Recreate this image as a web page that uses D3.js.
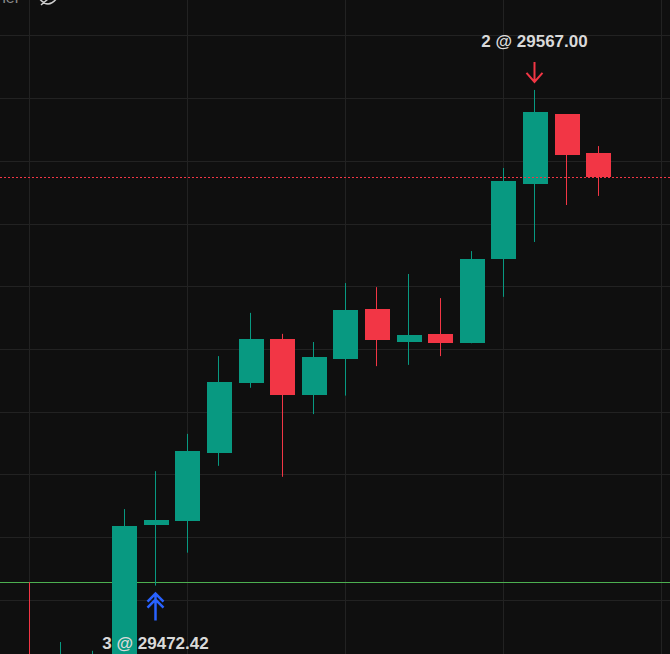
<!DOCTYPE html>
<html lang="en">
<head>
    <meta charset="UTF-8">
    <title>candles</title>
    <script src="https://cdn.jsdelivr.net/npm/d3@7/dist/d3.min.js"></script>
    <style>
        html, body { margin: 0; padding: 0; background: #0f0f0f; overflow: hidden; }
        svg { display: block; }
    </style>
</head>
<body>
<script>
    let width = 670,
        height = 654;

    // OHLC per bar (the first three bars sit mostly below the view)
    let open  = [29418, 29402, 29404, 29418, 29463.9, 29465.2, 29486.9, 29509.1, 29523.2, 29505.3, 29516.8, 29532.7, 29522.2, 29524.8, 29521.9, 29548.7, 29572.6, 29594.9, 29582.5];
    let high  = [29445.6, 29426.5, 29423.7, 29468.9, 29481.0, 29492.9, 29517.7, 29531.5, 29524.8, 29522.2, 29541.0, 29539.7, 29543.9, 29536.2, 29551.2, 29577.7, 29602.6, 29594.9, 29584.7];
    let low   = [29392, 29396, 29399, 29415, 29444.5, 29455.0, 29482.7, 29507.6, 29479.2, 29499.2, 29505.1, 29514.5, 29514.9, 29517.7, 29521.8, 29536.6, 29554.1, 29565.9, 29568.8];
    let close = [29400, 29418, 29420, 29463.5, 29465.4, 29487.4, 29509.4, 29523.2, 29505.3, 29517.4, 29532.4, 29522.8, 29524.4, 29521.9, 29548.7, 29573.6, 29595.6, 29581.9, 29574.8];

    // grid values
    let gridPrices = [29440, 29460, 29480, 29500, 29520, 29540, 29560, 29580, 29600, 29620];
    let gridBars = [0, 5, 10, 15, 20];

    // trades
    let tradeBar = [4, 16];
    let tradeSide = ['buy', 'sell'];
    let tradeQty = [3, 2];
    let tradePrice = [29472.42, 29567.00];

    // horizontal level line
    let levelPrice = 29445.6;

    let upColor = '#089981',
        downColor = '#f23645';

    let svg = d3.select('body')
                .append('svg')
                .attr('width', width)
                .attr('height', height);

    let x = d3.scaleLinear().domain([0, 18]).range([29.3, 598.1]);
    let y = d3.scaleLinear().domain([29440, 29620]).range([599.7, 35.4]);
    let crisp = v => Math.round(v) + 0.5;

    // grid
    svg.append('g')
       .selectAll('line')
       .data(gridPrices)
       .enter()
       .append('line')
       .attr('x1', 0).attr('x2', width)
       .attr('y1', d => crisp(y(d))).attr('y2', d => crisp(y(d)))
       .attr('stroke', '#222222');

    svg.append('g')
       .selectAll('line')
       .data(gridBars)
       .enter()
       .append('line')
       .attr('y1', 0).attr('y2', height)
       .attr('x1', d => crisp(x(d) - 0.5)).attr('x2', d => crisp(x(d) - 0.5))
       .attr('stroke', '#222222');

    // top-left legend remains (cut off)
    svg.append('text')
       .attr('x', 20).attr('y', 3)
       .attr('text-anchor', 'end')
       .attr('fill', '#8a8a8a')
       .style('font', '16px "Liberation Sans", sans-serif')
       .text('Tether');
    svg.append('path')
       .attr('d', 'M39,-2 Q48,10 57,-2 M41,5 L55,-7')
       .attr('fill', 'none')
       .attr('stroke', '#d0d0d0')
       .attr('stroke-width', 1.5);

    // level line
    svg.append('line')
       .attr('x1', 0).attr('x2', width)
       .attr('y1', crisp(y(levelPrice))).attr('y2', crisp(y(levelPrice)))
       .attr('stroke', '#4caf50');

    // candles
    let bars = d3.range(open.length);
    let g = svg.selectAll('g.bar')
               .data(bars)
               .enter()
               .append('g')
               .attr('class', 'bar');

    let colorOf = i => close[i] >= open[i] ? upColor : downColor;

    g.append('line')
     .attr('x1', i => crisp(x(i) - 0.5)).attr('x2', i => crisp(x(i) - 0.5))
     .attr('y1', i => y(high[i])).attr('y2', i => y(low[i]))
     .attr('stroke', colorOf);

    g.append('rect')
     .attr('x', i => Math.round(x(i)) - 12)
     .attr('width', 25)
     .attr('y', i => Math.round(y(Math.max(open[i], close[i]))))
     .attr('height', i => Math.max(1, Math.round(Math.abs(y(open[i]) - y(close[i])))))
     .attr('fill', colorOf);

    // last price line
    let last = close[close.length - 1];
    svg.append('line')
       .attr('x1', 0).attr('x2', width)
       .attr('y1', crisp(y(last))).attr('y2', crisp(y(last)))
       .attr('stroke', downColor)
       .attr('stroke-dasharray', '2,2');

    // trade markers
    tradeBar.forEach((b, k) => {
        let cx = Math.round(x(b)) - 0.5;
        let label = tradeQty[k] + ' @ ' + tradePrice[k].toFixed(2);
        if (tradeSide[k] === 'buy') {
            let top = y(low[b]) + 8;
            svg.append('path')
               .attr('d', `M${cx - 8},${top + 8} L${cx},${top} L${cx + 8},${top + 8} M${cx - 8},${top + 14} L${cx},${top + 6} L${cx + 8},${top + 14} M${cx},${top + 2} V${top + 27}`)
               .attr('fill', 'none')
               .attr('stroke', '#2962ff')
               .attr('stroke-width', 2.5);
            svg.append('text')
               .attr('x', cx).attr('y', top + 55)
               .attr('text-anchor', 'middle')
               .attr('fill', '#d9d9d9')
               .style('font', 'bold 17px "Liberation Sans", sans-serif')
               .text(label);
        } else {
            let tip = y(high[b]) - 8;
            svg.append('path')
               .attr('d', `M${cx},${tip - 20} V${tip} M${cx - 8},${tip - 9} L${cx},${tip} L${cx + 8},${tip - 9}`)
               .attr('fill', 'none')
               .attr('stroke', downColor)
               .attr('stroke-width', 2);
            svg.append('text')
               .attr('x', cx).attr('y', tip - 35)
               .attr('text-anchor', 'middle')
               .attr('fill', '#d9d9d9')
               .style('font', 'bold 17px "Liberation Sans", sans-serif')
               .text(label);
        }
    });
</script>
</body>
</html>
